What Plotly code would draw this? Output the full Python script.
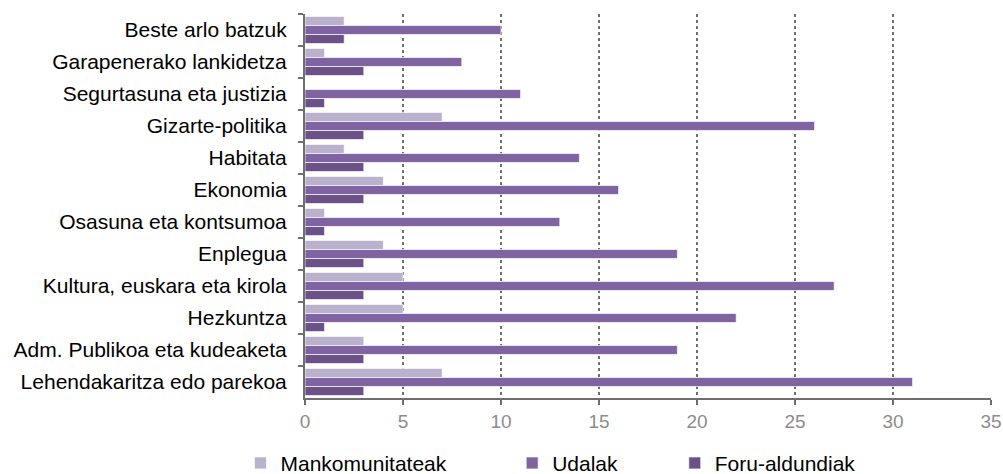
import plotly.graph_objects as go

categories = [
    "Beste arlo batzuk",
    "Garapenerako lankidetza",
    "Segurtasuna eta justizia",
    "Gizarte-politika",
    "Habitata",
    "Ekonomia",
    "Osasuna eta kontsumoa",
    "Enplegua",
    "Kultura, euskara eta kirola",
    "Hezkuntza",
    "Adm. Publikoa eta kudeaketa",
    "Lehendakaritza edo parekoa",
]
mankomunitateak = [2, 1, 0, 7, 2, 4, 1, 4, 5, 5, 3, 7]
udalak = [10, 8, 11, 26, 14, 16, 13, 19, 27, 22, 19, 31]
foru_aldundiak = [2, 3, 1, 3, 3, 3, 1, 3, 3, 1, 3, 3]

x_ticks = [0, 5, 10, 15, 20, 25, 30, 35]

series = [
    ("Mankomunitateak", mankomunitateak, "#BBB1CC", "legend"),
    ("Udalak", udalak, "#8064A2", "legend2"),
    ("Foru-aldundiak", foru_aldundiak, "#6A5188", "legend3"),
]

fig = go.Figure()
for name, vals, color, leg in series:
    fig.add_trace(go.Bar(
        name=name, y=categories, x=vals, orientation="h", legend=leg,
        marker=dict(color=color, line=dict(color="rgba(255,255,255,0.7)", width=1)),
    ))

# one legend box per series, laid out along the bottom
legend_common = dict(
    orientation="h", y=-0.17, yanchor="middle", xanchor="left",
    font=dict(size=21, color="#000000"), itemwidth=30,
    bgcolor="rgba(0,0,0,0)", borderwidth=0,
)

fig.update_layout(
    width=1003, height=474,
    margin=dict(l=305, r=12, t=14, b=76, autoexpand=False),
    barmode="group", bargap=0.15, bargroupgap=0,
    plot_bgcolor="white", paper_bgcolor="white",
    font=dict(family="Liberation Sans, Arial, sans-serif", size=21, color="#000000"),
    showlegend=True,
    legend=dict(legend_common, x=-0.094),
    legend2=dict(legend_common, x=0.302),
    legend3=dict(legend_common, x=0.539),
    xaxis=dict(
        range=[0, 35], tickvals=x_ticks, ticktext=[str(v) for v in x_ticks],
        showgrid=True, gridcolor="#707070", griddash="dot", gridwidth=1.6,
        showline=True, linecolor="#6E6E6E", linewidth=2,
        ticks="outside", ticklen=5, tickcolor="#6E6E6E", tickwidth=1.5,
        tickfont=dict(color="#8C8C8C", size=19), zeroline=False,
    ),
    yaxis=dict(
        autorange="reversed", showline=True, linecolor="#6E6E6E", linewidth=2,
        ticks="outside", tickson="boundaries", ticklen=5, tickcolor="#6E6E6E", tickwidth=1.5,
        tickfont=dict(color="#000000", size=21), showgrid=False, ticklabelstandoff=12,
    ),
)

fig.write_html("out.html")
